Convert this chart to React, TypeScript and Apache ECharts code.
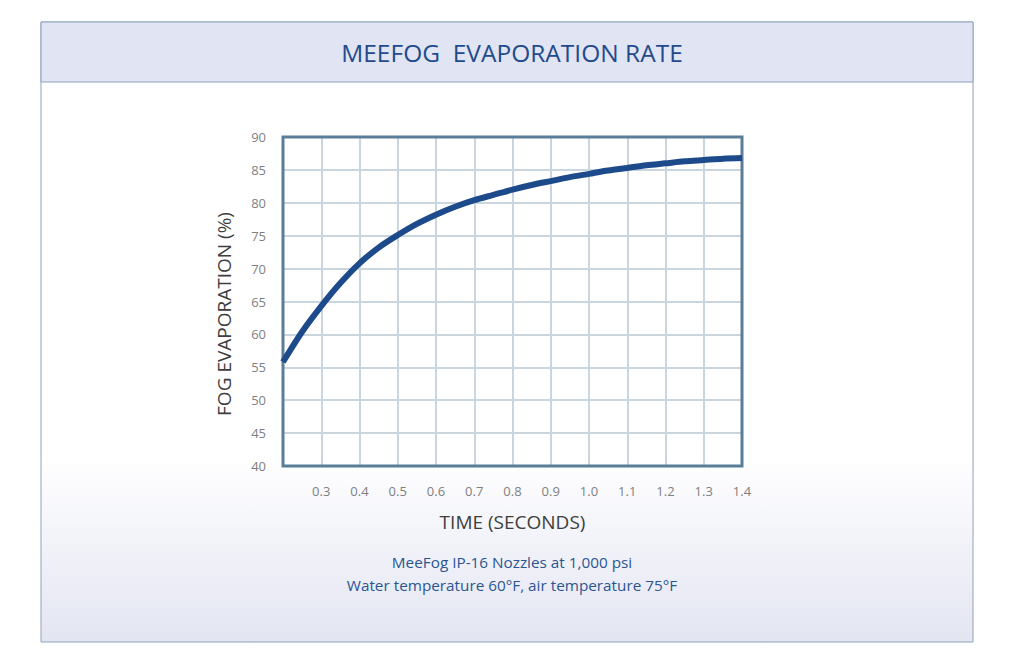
import React, { useEffect, useRef } from "react";
import * as echarts from "echarts";

const timeSeconds = [
  0.2, 0.25, 0.3, 0.35, 0.4, 0.45, 0.5, 0.55, 0.6, 0.65, 0.7, 0.75, 0.8,
  0.85, 0.9, 0.95, 1.0, 1.05, 1.1, 1.15, 1.2, 1.25, 1.3, 1.35, 1.4,
];
const evaporationPct = [
  55.8, 60.4, 64.3, 67.8, 70.8, 73.2, 75.1, 76.8, 78.2, 79.4, 80.4, 81.2, 82.0,
  82.7, 83.3, 83.9, 84.4, 84.9, 85.3, 85.7, 86.0, 86.3, 86.5, 86.7, 86.8,
];

const titleText = "MEEFOG  EVAPORATION RATE";
const captionLines = ["MeeFog IP-16 Nozzles at 1,000 psi", "Water temperature 60°F, air temperature 75°F"];
const xName = "TIME (SECONDS)";
const yName = "FOG EVAPORATION (%)";

export default function App() {
  const ref = useRef<HTMLDivElement>(null);
  useEffect(() => {
    document.body.style.margin = "0";
    const chart = echarts.init(ref.current!, null, { renderer: "svg" });
    const font = "'Open Sans', 'Noto Sans', sans-serif";
    chart.setOption({
      animation: false,
      backgroundColor: "#ffffff",
      graphic: [
        {
          type: "rect",
          shape: { x: 41, y: 22, width: 932, height: 620 },
          style: {
            fill: new echarts.graphic.LinearGradient(0, 0, 0, 1, [
              { offset: 0, color: "#ffffff" },
              { offset: 0.7, color: "#ffffff" },
              { offset: 1, color: "#e3e5f2" },
            ]),
            stroke: "#8ea3bd",
            lineWidth: 1,
          },
          z: -10,
        },
        {
          type: "rect",
          shape: { x: 41, y: 22, width: 932, height: 60 },
          style: { fill: "#e1e4f3", stroke: "#8ea3bd", lineWidth: 1 },
          z: -9,
        },
        {
          type: "text",
          x: 512,
          y: 52,
          style: {
            text: titleText,
            font: `24.5px ${font}`,
            fill: "#1f4b8c",
            align: "center",
            verticalAlign: "middle",
          },
        },
        {
          type: "text",
          x: 224,
          y: 314,
          rotation: Math.PI / 2,
          style: {
            text: yName,
            font: `19px ${font}`,
            fill: "#3d3d3d",
            align: "center",
            verticalAlign: "middle",
          },
        },
        {
          type: "text",
          x: 512,
          y: 562,
          style: {
            text: captionLines[0],
            font: `15.3px ${font}`,
            fill: "#2a5592",
            align: "center",
            verticalAlign: "middle",
          },
        },
        {
          type: "text",
          x: 512,
          y: 585,
          style: {
            text: captionLines[1],
            font: `15.3px ${font}`,
            fill: "#2a5592",
            align: "center",
            verticalAlign: "middle",
          },
        },
      ],
      grid: {
        left: 283,
        top: 137,
        width: 459,
        height: 329,
        show: true,
        borderColor: "#5a7e98",
        borderWidth: 3,
        backgroundColor: "transparent",
        z: 3,
      },
      xAxis: {
        type: "value",
        min: 0.2,
        max: 1.4,
        interval: 0.1,
        name: xName,
        nameLocation: "middle",
        nameGap: 46,
        nameTextStyle: { fontFamily: font, fontSize: 19, color: "#3d3d3d" },
        axisLine: { show: false },
        axisTick: { show: false },
        splitLine: { show: true, lineStyle: { color: "#c9d5df", width: 2 } },
        axisLabel: {
          margin: 18,
          fontFamily: font,
          fontSize: 13,
          color: "#7f7f7f",
          formatter: (v: number) => (v < 0.25 ? "" : v.toFixed(1)),
        },
      },
      yAxis: {
        type: "value",
        min: 40,
        max: 90,
        interval: 5,
        axisLine: { show: false },
        axisTick: { show: false },
        splitLine: { show: true, lineStyle: { color: "#c9d5df", width: 2 } },
        axisLabel: { margin: 17, fontFamily: font, fontSize: 13, color: "#7f7f7f" },
      },
      series: [
        {
          type: "line",
          data: timeSeconds.map((t, i) => [t, evaporationPct[i]]),
          smooth: 0.3,
          showSymbol: false,
          lineStyle: { color: "#1d4a8a", width: 6 },
          z: 5,
        },
      ],
    });
    return () => chart.dispose();
  }, []);
  return <div ref={ref} style={{ position: "absolute", left: 0, top: 0, width: 1024, height: 666 }} />;
}
